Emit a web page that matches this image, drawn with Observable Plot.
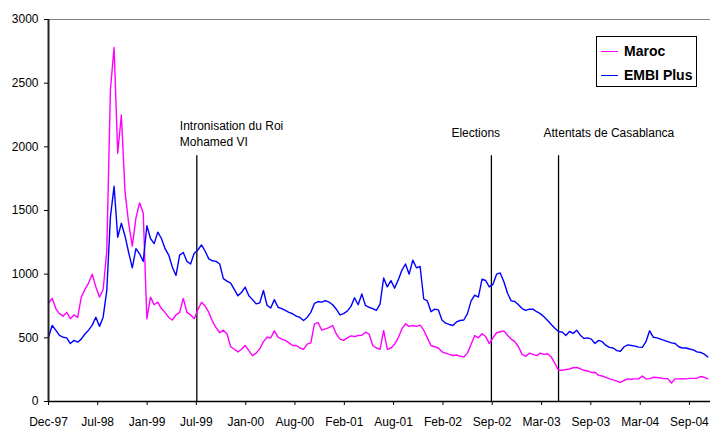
<!DOCTYPE html>
<html>
<head>
<meta charset="utf-8">
<script src="https://cdn.jsdelivr.net/npm/d3@7"></script>
<script src="https://cdn.jsdelivr.net/npm/@observablehq/plot@0.6"></script>
<style>
  html, body { margin: 0; padding: 0; background: #fff; }
  #wrap { position: relative; width: 710px; height: 431px; font-family: "Liberation Sans", Arial, sans-serif; }
  #legend { position: absolute; left: 596px; top: 36px; width: 99px; height: 47px; border: 1px solid #000; background: #fff; padding-top: 2px; box-sizing: content-box; }
  .row { display: flex; align-items: center; height: 24px; }
  .swatch { width: 17px; height: 0; border-top: 1px solid; margin-left: 4px; margin-right: 6px; }
  .lab { font-weight: bold; font-size: 14px; color: #000; }
</style>
</head>
<body>
<div id="wrap"></div>
<script>
// ---- data ----
const seriesNames = ["Maroc", "EMBI Plus"];
const seriesColors = ["#ff00ff", "#0000ff"];
const startDate = "1997-12-31";
const stepDays = 14;

const maroc = [
  770, 810, 730, 690, 670, 700, 650, 680, 660, 820,
  880, 930, 1000, 900, 820, 880, 1180, 2450, 2780, 1950,
  2250, 1650, 1400, 1220, 1440, 1560, 1480, 650, 820, 760,
  780, 730, 700, 660, 640, 680, 700, 810, 700, 680,
  650, 720, 780, 750, 700, 630, 580, 540, 560, 530,
  430, 410, 390, 410, 440, 400, 360, 380, 414, 470,
  505, 500, 555, 505, 490, 480, 460, 440, 440, 420,
  410, 450, 460, 610, 620, 560, 570, 580, 597, 530,
  490, 480, 500, 515, 510, 518, 520, 544, 530, 440,
  420, 410, 557, 410, 420, 450, 500, 570, 610, 590,
  597, 590, 600, 560, 500, 440, 430, 420, 390, 380,
  370, 361, 365, 355, 350, 380, 450, 518, 500, 532,
  510, 455, 500, 540, 548, 555, 520, 490, 470, 430,
  370, 355, 380, 370, 360, 380, 370, 375, 350, 300,
  245, 245, 250, 255, 265, 268, 257, 245, 240, 228,
  230, 205, 200, 190, 178, 170, 160, 150, 165, 178,
  175, 178, 178, 200, 178, 180, 190, 188, 185, 180,
  180, 145, 178, 178, 180, 178, 182, 182, 183, 196,
  190, 178
];

const embi = [
  505, 597, 560, 520, 505, 500, 455, 480, 466, 490,
  530, 560, 600, 662, 590, 662, 872, 1450, 1690, 1290,
  1400, 1300, 1170, 1050, 1200, 1160, 1100, 1380, 1280, 1240,
  1330, 1280, 1200, 1150, 1055, 990, 1150, 1170, 1100, 1080,
  1165, 1190, 1230, 1180, 1120, 1105, 1100, 1080, 965, 945,
  930, 880, 830, 858, 898, 830, 800, 767, 775, 872,
  754, 735, 800, 740, 730, 715, 700, 689, 670, 660,
  636, 660, 700, 770, 785, 780, 793, 780, 760, 725,
  680, 690, 710, 745, 815, 760, 845, 754, 740, 730,
  715, 765, 970, 900, 950, 890, 955, 1030, 1080, 1000,
  1110, 1050, 1060, 805, 790, 705, 725, 720, 640, 615,
  605, 597, 625, 636, 640, 690, 790, 835, 820, 960,
  950, 900, 920, 1000, 1010, 940, 850, 790, 785, 760,
  730, 715, 725, 725, 705, 690, 665, 636, 605, 575,
  550, 545, 518, 550, 535, 560, 520, 495, 500, 490,
  455, 480, 470, 440, 425, 420, 400, 395, 430, 445,
  440, 435, 427, 425, 470, 555, 505, 500, 490, 480,
  470, 460, 455, 430, 420, 420, 412, 405, 390, 385,
  372, 350
];

const xDomain = ["1997-12-31", "2004-12-18"];
const yTicks = [0, 500, 1000, 1500, 2000, 2500, 3000];
const tickDates = ["1997-12-31", "1998-07-08", "1999-01-14", "1999-07-22", "2000-01-28", "2000-08-04",
  "2001-02-10", "2001-08-18", "2002-02-24", "2002-09-01", "2003-03-10", "2003-09-15", "2004-03-23", "2004-09-28"];
const tickLabels = ["Dec-97", "Jul-98", "Jan-99", "Jul-99", "Jan-00", "Aug-00", "Feb-01",
  "Aug-01", "Feb-02", "Sep-02", "Mar-03", "Sep-03", "Mar-04", "Sep-04"];

const eventDates = ["1999-07-24", "2002-08-29", "2003-05-14"];
const eventLabels = ["Intronisation du Roi\nMohamed VI", "Elections", "Attentats de Casablanca"];
const eventTop = 1930;

// ---- build ----
const parse = s => new Date(s + "T00:00:00Z");
const t0 = parse(startDate).getTime();
const toRows = (vals, name) => vals.map((v, i) => ({date: new Date(t0 + i * stepDays * 864e5), value: v, series: name}));
const marocRows = toRows(maroc, seriesNames[0]);
const embiRows = toRows(embi, seriesNames[1]);
const ticks = tickDates.map(parse);
const events = eventDates.map((d, i) => ({date: parse(d), label: eventLabels[i]}));

const font = "Liberation Sans, Arial, sans-serif";

const chart = Plot.plot({
  width: 710,
  height: 431,
  marginLeft: 48,
  marginRight: 0,
  marginTop: 19,
  marginBottom: 30,
  style: {fontFamily: font, fontSize: "12px", color: "#000", background: "#fff"},
  x: {type: "utc", domain: xDomain.map(parse), ticks: ticks,
      tickFormat: d => tickLabels[ticks.findIndex(t => +t === +d)], tickSize: 4, tickPadding: 12, label: null},
  y: {domain: [0, 3000], ticks: yTicks, tickFormat: d => String(d), tickSize: 4, tickPadding: 6, label: null},
  marks: [
    Plot.ruleY([3000], {stroke: "#808080", strokeWidth: 1}),
    Plot.ruleX(events, {x: "date", y1: 0, y2: eventTop, stroke: "#000", strokeWidth: 1.3}),
    Plot.line(marocRows, {x: "date", y: "value", stroke: seriesColors[0], strokeWidth: 1.4}),
    Plot.line(embiRows, {x: "date", y: "value", stroke: seriesColors[1], strokeWidth: 1.4}),
    Plot.text([events[0]], {x: "date", y: () => eventTop, text: "label", textAnchor: "start", lineAnchor: "middle", lineHeight: 1.35, dx: -17, dy: -23, fill: "#000", fontSize: 12}),
    Plot.text([events[1]], {x: "date", y: () => eventTop, text: "label", textAnchor: "start", lineAnchor: "middle", dx: -40, dy: -23, fill: "#000", fontSize: 12}),
    Plot.text([events[2]], {x: "date", y: () => eventTop, text: "label", textAnchor: "start", lineAnchor: "middle", dx: -15, dy: -23, fill: "#000", fontSize: 12}),
    Plot.ruleY([0], {stroke: "#000", strokeWidth: 1.5}),
    Plot.ruleX([parse(xDomain[0])], {stroke: "#222", strokeWidth: 2})
  ]
});

const wrap = document.getElementById("wrap");
wrap.appendChild(chart);

const legend = document.createElement("div");
legend.id = "legend";
seriesNames.forEach((name, i) => {
  const row = document.createElement("div");
  row.className = "row";
  const sw = document.createElement("div");
  sw.className = "swatch";
  sw.style.borderTopColor = seriesColors[i];
  const lab = document.createElement("span");
  lab.className = "lab";
  lab.textContent = name;
  row.appendChild(sw);
  row.appendChild(lab);
  legend.appendChild(row);
});
wrap.appendChild(legend);
</script>
</body>
</html>
